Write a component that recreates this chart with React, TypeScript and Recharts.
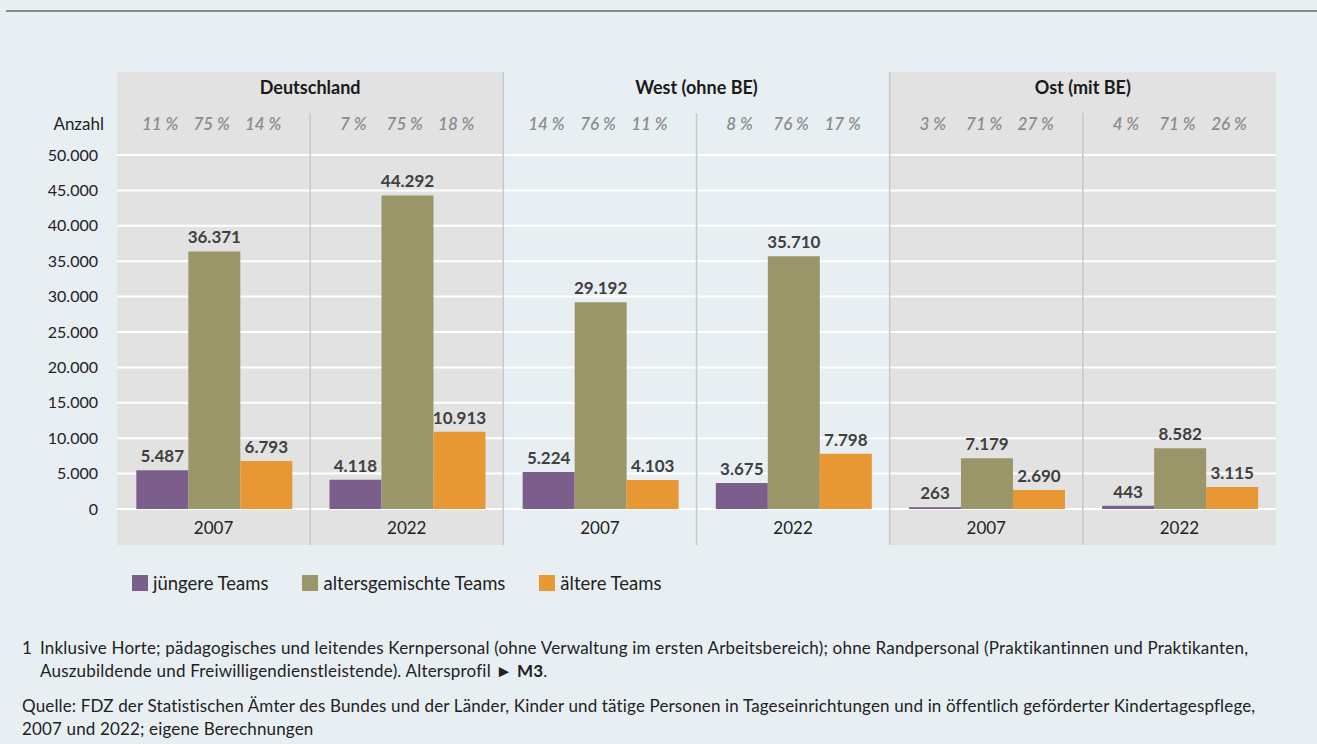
import { Bar, BarChart, CartesianGrid, LabelList, Legend, XAxis, YAxis } from 'recharts';

// Kategorien: je Region zwei Jahre
const regions = ['Deutschland', 'West (ohne BE)', 'Ost (mit BE)'];
const years = ['2007', '2022', '2007', '2022', '2007', '2022'];

// Anzahl Teams
const juengere = [5487, 4118, 5224, 3675, 263, 443];
const gemischt = [36371, 44292, 29192, 35710, 7179, 8582];
const aeltere = [6793, 10913, 4103, 7798, 2690, 3115];

// Anteile in %
const pctJuengere = [11, 7, 14, 8, 3, 4];
const pctGemischt = [75, 75, 76, 76, 71, 71];
const pctAeltere = [14, 18, 11, 17, 27, 26];

const seriesNames = ['jüngere Teams', 'altersgemischte Teams', 'ältere Teams'];
const yTicks = [0, 5000, 10000, 15000, 20000, 25000, 30000, 35000, 40000, 45000, 50000];

const COLORS = { jung: '#7b5e8b', mix: '#9b966a', alt: '#e79834' };
const FONT = 'Lato, "Noto Sans", sans-serif';

const data = years.map((year, i) => ({
  key: `${i}-${year}`,
  year,
  juengere: juengere[i],
  gemischt: gemischt[i],
  aeltere: aeltere[i],
}));

const fmt = (v: number) => String(v).replace(/\B(?=(\d{3})+(?!\d))/g, '.');

const TopTick = (props: any) => {
  const { x, y, index, payload } = props;
  const half = payload?.offset ?? 96.6;
  const bw = (half * 2 * 0.8) / 3;
  const pcts = [pctJuengere, pctGemischt, pctAeltere];
  return (
    <g>
      {index % 2 === 0 && (
        <text x={x + half} y={y - 61} textAnchor="middle" fontSize={18} fontWeight={700} fill="#1a1a1a" fontFamily={FONT}>
          {regions[index / 2]}
        </text>
      )}
      {pcts.map((p, k) => (
        <text
          key={k}
          x={x + (k - 1) * bw - 2}
          y={y - 25}
          textAnchor="middle"
          fontSize={17}
          fontStyle="italic"
          fontWeight={600}
          fill="#8c8c8c"
          fontFamily={FONT}
        >
          {`${p[index]} %`}
        </text>
      ))}
    </g>
  );
};

const BottomTick = (props: any) => {
  const { x, y, index, payload } = props;
  const half = payload?.offset ?? 96.6;
  const top = index % 2 === 0 ? y - 437 : y - 396;
  return (
    <g>
      {index > 0 && <line x1={x - half} x2={x - half} y1={top} y2={y + 36} stroke="#c8c8c8" strokeWidth={1.5} />}
      <text x={x} y={y + 25} textAnchor="middle" fontSize={17} fill="#222" fontFamily={FONT}>
        {years[index]}
      </text>
    </g>
  );
};

const LegendContent = (props: any) => {
  const items = [...(props.payload || [])].sort(
    (a: any, b: any) => seriesNames.indexOf(a.value) - seriesNames.indexOf(b.value),
  );
  return (
    <div style={{ display: 'flex', gap: 34, fontFamily: FONT, fontSize: 18.5, color: '#222' }}>
      {items.map((e: any) => (
        <span key={e.value} style={{ display: 'flex', alignItems: 'center' }}>
          <span style={{ width: 16, height: 16, background: e.color, marginRight: 5, display: 'inline-block' }} />
          {e.value}
        </span>
      ))}
    </div>
  );
};

const labelStyle = { fontSize: 17, fontWeight: 700, fill: '#404040', fontFamily: FONT };

export default function App() {
  return (
    <div
      style={{
        position: 'absolute',
        left: 0,
        top: 0,
        width: 1317,
        height: 744,
        overflow: 'hidden',
        background: '#e8eff3',
        fontFamily: FONT,
        color: '#222',
      }}
    >
      <div style={{ position: 'absolute', left: 6, width: 1311, top: 10, height: 2, background: '#8a8a8a' }} />
      {/* graue Panels Deutschland / Ost */}
      <div style={{ position: 'absolute', left: 117, top: 72, width: 387, height: 473, background: '#e2e2e2' }} />
      <div style={{ position: 'absolute', left: 889, top: 72, width: 387, height: 473, background: '#e2e2e2' }} />
      <div style={{ position: 'absolute', left: 0, width: 104, top: 113, textAlign: 'right', fontSize: 17 }}>Anzahl</div>

      <div style={{ position: 'absolute', left: 0, top: 0 }}>
        <BarChart
          width={1317}
          height={600}
          data={data}
          margin={{ top: 72, right: 41, bottom: 55, left: 57 }}
          barCategoryGap="10%"
          barGap={0}
        >
          <CartesianGrid horizontal vertical={false} stroke="#ffffff" strokeWidth={2} />
          <XAxis
            xAxisId="top"
            orientation="top"
            dataKey="key"
            height={83}
            axisLine={false}
            tickLine={false}
            tickSize={0}
            tickMargin={0}
            interval={0}
            tick={<TopTick />}
          />
          <XAxis
            dataKey="key"
            height={36}
            axisLine={false}
            tickLine={false}
            tickSize={0}
            tickMargin={0}
            interval={0}
            tick={<BottomTick />}
          />
          <YAxis
            width={60}
            domain={[0, 50000]}
            ticks={yTicks}
            axisLine={false}
            tickLine={false}
            tickMargin={13}
            tickFormatter={fmt}
            tick={{ fontSize: 16, fill: '#222', fontFamily: FONT }}
          />
          <Legend
            verticalAlign="middle"
            align="center"
            layout="horizontal"
            wrapperStyle={{ left: 132, top: 572, width: 'auto', height: 'auto' }}
            content={<LegendContent />}
          />
          <Bar dataKey="juengere" name={seriesNames[0]} fill={COLORS.jung} isAnimationActive={false}>
            <LabelList dataKey="juengere" position="top" offset={8} formatter={(v: any) => fmt(v)} style={labelStyle} />
          </Bar>
          <Bar dataKey="gemischt" name={seriesNames[1]} fill={COLORS.mix} isAnimationActive={false}>
            <LabelList dataKey="gemischt" position="top" offset={8} formatter={(v: any) => fmt(v)} style={labelStyle} />
          </Bar>
          <Bar dataKey="aeltere" name={seriesNames[2]} fill={COLORS.alt} isAnimationActive={false}>
            <LabelList dataKey="aeltere" position="top" offset={8} formatter={(v: any) => fmt(v)} style={labelStyle} />
          </Bar>
        </BarChart>
      </div>

      <div
        style={{
          position: 'absolute',
          left: 22,
          top: 636,
          fontSize: 17,
          letterSpacing: 0.2,
          lineHeight: '23px',
          whiteSpace: 'nowrap',
          display: 'flex',
        }}
      >
        <span style={{ width: 18 }}>1</span>
        <span>
          Inklusive Horte; pädagogisches und leitendes Kernpersonal (ohne Verwaltung im ersten Arbeitsbereich); ohne Randpersonal (Praktikantinnen und Praktikanten,
          <br />
          Auszubildende und Freiwilligendienstleistende). Altersprofil {'\u25BA'} <b>M3</b>.
        </span>
      </div>
      <div
        style={{
          position: 'absolute',
          left: 22,
          top: 694,
          fontSize: 17,
          letterSpacing: 0.15,
          lineHeight: '23px',
          whiteSpace: 'nowrap',
        }}
      >
        Quelle: FDZ der Statistischen Ämter des Bundes und der Länder, Kinder und tätige Personen in Tageseinrichtungen und in öffentlich geförderter Kindertagespflege,
        <br />
        2007 und 2022; eigene Berechnungen
      </div>
    </div>
  );
}
